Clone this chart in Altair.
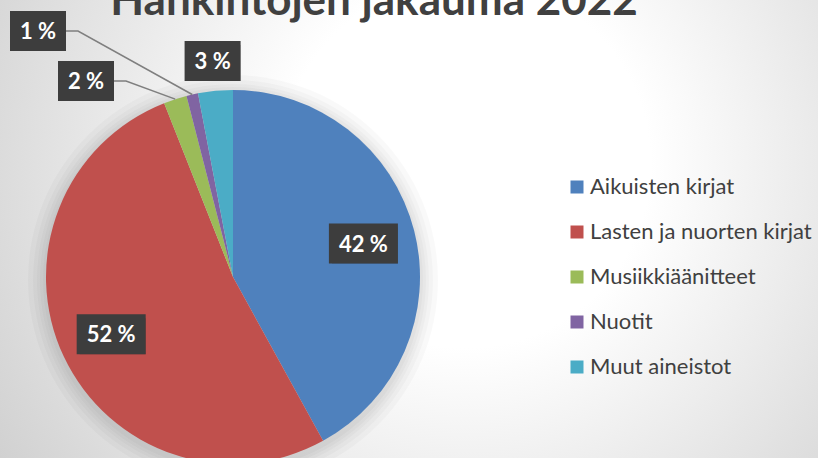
import altair as alt
import pandas as pd
import numpy as np

# ---- data ----
categories = ["Aikuisten kirjat", "Lasten ja nuorten kirjat", "Musiikkiäänitteet", "Nuotit", "Muut aineistot"]
values = [42, 52, 2, 1, 3]
colors = ["#4F81BD", "#C0504D", "#9BBB59", "#8064A2", "#4BACC6"]
label_texts = ["42 %", "52 %", "2 %", "1 %", "3 %"]
title_text = "Hankintojen jakauma 2022"

# ---- layout ----
W, H = 818, 458
CX, CY, R = 233, 277, 187
# labels dragged away from the pie (index -> centre)
moved_labels = {2: (86, 81), 3: (38, 31)}

total = sum(values)
cum = np.cumsum([0] + values)[:-1]
mid = [(c + v / 2) / total * 2 * np.pi for c, v in zip(cum, values)]

pie_df = pd.DataFrame({"cat": categories, "value": values, "idx": range(len(values))})

rows = []
lines = []
for i, (t, a) in enumerate(zip(label_texts, mid)):
    frac = values[i] / total
    if i in moved_labels:
        cx, cy = moved_labels[i]
    else:
        rr = 0.72 * R if frac > 0.1 else 1.16 * R
        cx, cy = CX + rr * np.sin(a), CY - rr * np.cos(a)
    w = 56 + 13 * (len(t) - 3)
    h = 40
    rows.append(dict(text=t, cx=cx, cy=cy, x1=cx - w / 2, x2=cx + w / 2, y1=cy - h / 2, y2=cy + h / 2))
    if i in moved_labels:
        ex, ey = CX + R * np.sin(a), CY - R * np.cos(a)
        sx = cx + w / 2
        for k, (px, py) in enumerate([(sx, cy), (sx + 12, cy), (ex, ey)]):
            lines.append(dict(lab=t, pt=k, x=px, y=py))
lab_df = pd.DataFrame(rows)
line_df = pd.DataFrame(lines)

leg_df = pd.DataFrame({"cat": categories, "lx": [577] * 5, "tx": [590] * 5,
                       "ly": [187 + 45 * i for i in range(5)]})

xs = alt.Scale(domain=[0, W], range=[0, W])
ys = alt.Scale(domain=[0, H], range=[0, H])
cscale = alt.Scale(domain=categories, range=colors)
one = pd.DataFrame({"a": [0]})

bg = alt.Chart(one).mark_rect(
    color=alt.RadialGradient(
        gradient="radial", x1=0.57, y1=0.42, r1=0, x2=0.57, y2=0.42, r2=0.75,
        stops=[alt.GradientStop(color="#ffffff", offset=0),
               alt.GradientStop(color="#ffffff", offset=0.3),
               alt.GradientStop(color="#c9c9c9", offset=1)])
).encode(x=alt.value(0), x2=alt.value(W), y=alt.value(0), y2=alt.value(H))

glows = [
    alt.Chart(one).mark_arc(theta=0, theta2=6.2832, radius=R + k, color="#000000", opacity=0.025)
    .encode(x=alt.value(CX), y=alt.value(CY + 3))
    for k in [18, 13, 9, 6, 3]
]

pie = alt.Chart(pie_df).mark_arc(radius=R).encode(
    theta=alt.Theta("value:Q", stack=True),
    color=alt.Color("cat:N", scale=cscale, legend=None),
    order=alt.Order("idx:Q"),
    x=alt.value(CX), y=alt.value(CY),
)

leader = alt.Chart(line_df).mark_line(color="#7f7f7f", strokeWidth=1.5).encode(
    x=alt.X("x:Q", scale=xs, axis=None),
    y=alt.Y("y:Q", scale=ys, axis=None),
    detail="lab:N", order="pt:Q",
)

shadow = alt.Chart(lab_df).mark_rect(color="#000000", opacity=0.28, xOffset=3, yOffset=4).encode(
    x=alt.X("x1:Q", scale=xs, axis=None), x2="x2:Q",
    y=alt.Y("y1:Q", scale=ys, axis=None), y2="y2:Q",
)
boxes = alt.Chart(lab_df).mark_rect(color="#3d3d3d").encode(
    x=alt.X("x1:Q", scale=xs, axis=None), x2="x2:Q",
    y=alt.Y("y1:Q", scale=ys, axis=None), y2="y2:Q",
)
labels = alt.Chart(lab_df).mark_text(
    font="Lato", fontSize=22, fontWeight="bold", color="#ffffff", align="center", baseline="middle", dy=1
).encode(
    x=alt.X("cx:Q", scale=xs, axis=None),
    y=alt.Y("cy:Q", scale=ys, axis=None),
    text="text:N",
)

leg_sq = alt.Chart(leg_df).mark_square(size=169, opacity=1).encode(
    x=alt.X("lx:Q", scale=xs, axis=None),
    y=alt.Y("ly:Q", scale=ys, axis=None),
    color=alt.Color("cat:N", scale=cscale, legend=None),
)
leg_tx = alt.Chart(leg_df).mark_text(
    font="Lato", fontSize=22, color="#404040", align="left", baseline="middle"
).encode(
    x=alt.X("tx:Q", scale=xs, axis=None),
    y=alt.Y("ly:Q", scale=ys, axis=None),
    text="cat:N",
)

title = alt.Chart(one).mark_text(
    text=title_text, font="Lato", fontSize=44, fontWeight="bold", color="#404040",
    align="center", baseline="alphabetic"
).encode(x=alt.value(374), y=alt.value(15))

chart = alt.layer(bg, *glows, pie, leader, shadow, boxes, labels, leg_sq, leg_tx, title).properties(
    width=W, height=H, padding=0, autosize="none"
).configure_view(stroke=None)

chart.save("out.html", embed_options={"renderer": "svg", "actions": False})
